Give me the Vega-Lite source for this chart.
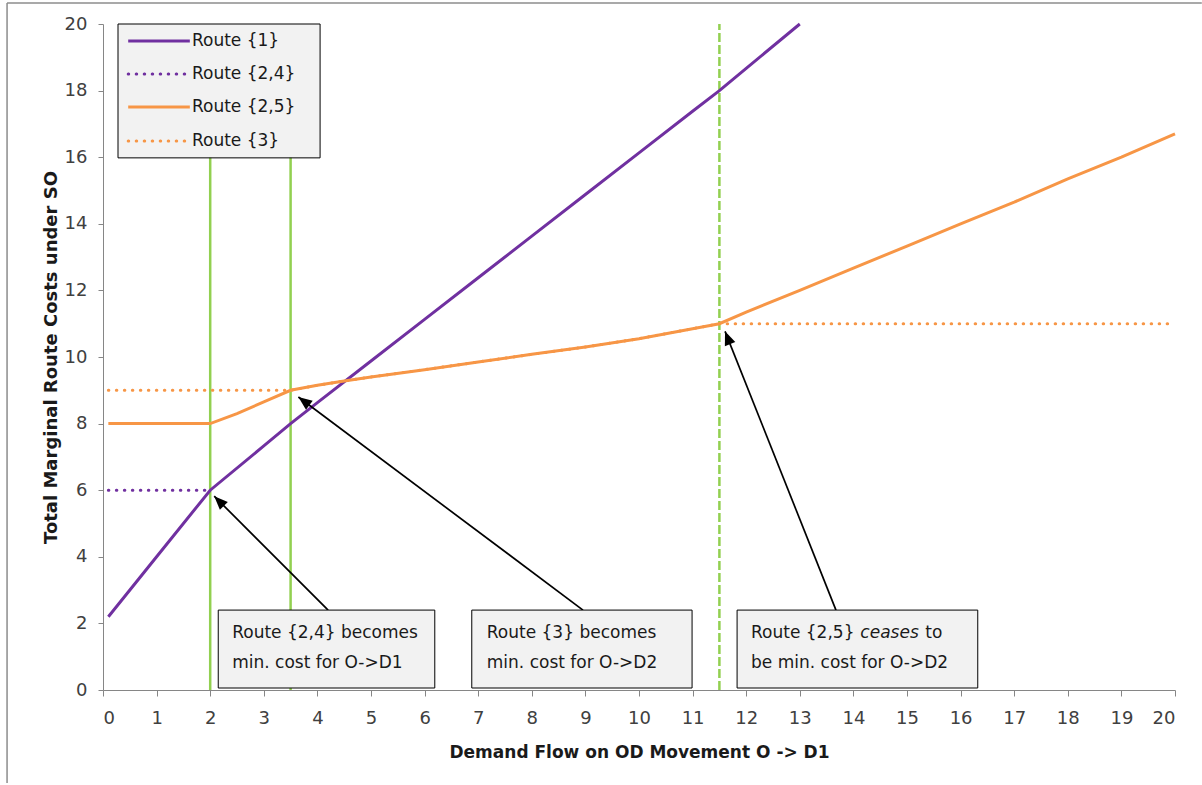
{
  "$schema": "https://vega.github.io/schema/vega-lite/v6.json",
  "autosize": {"type": "none"},
  "width": 1072,
  "height": 666,
  "padding": {"left": 103, "top": 24, "right": 27, "bottom": 95},
  "background": "#ffffff",
  "config": {
    "view": {"stroke": null},
    "font": "DejaVu Sans",
    "axis": {
      "grid": false,
      "domainColor": "#868686",
      "tickColor": "#868686",
      "labelColor": "#404040",
      "labelFont": "DejaVu Sans",
      "labelFontSize": 18,
      "titleFont": "DejaVu Sans",
      "titleFontWeight": "bold",
      "titleColor": "#1a1a1a"
    }
  },
  "datasets": {
    "routes": [
      {"route": "Route {1}", "x": 0.1, "y": 2.2},
      {"route": "Route {1}", "x": 1, "y": 4.0},
      {"route": "Route {1}", "x": 2, "y": 6.0},
      {"route": "Route {1}", "x": 3, "y": 7.33},
      {"route": "Route {1}", "x": 3.5, "y": 8.0},
      {"route": "Route {1}", "x": 4, "y": 8.63},
      {"route": "Route {1}", "x": 5, "y": 9.88},
      {"route": "Route {1}", "x": 6, "y": 11.13},
      {"route": "Route {1}", "x": 7, "y": 12.38},
      {"route": "Route {1}", "x": 8, "y": 13.63},
      {"route": "Route {1}", "x": 9, "y": 14.88},
      {"route": "Route {1}", "x": 10, "y": 16.13},
      {"route": "Route {1}", "x": 11, "y": 17.38},
      {"route": "Route {1}", "x": 11.5, "y": 18.0},
      {"route": "Route {1}", "x": 12, "y": 18.67},
      {"route": "Route {1}", "x": 13, "y": 20.0},
      {"route": "Route {2,4}", "x": 0.1, "y": 6},
      {"route": "Route {2,4}", "x": 2, "y": 6},
      {"route": "Route {2,5}", "x": 0.1, "y": 8},
      {"route": "Route {2,5}", "x": 2, "y": 8},
      {"route": "Route {2,5}", "x": 2.5, "y": 8.3},
      {"route": "Route {2,5}", "x": 3, "y": 8.65},
      {"route": "Route {2,5}", "x": 3.5, "y": 9.0},
      {"route": "Route {2,5}", "x": 4, "y": 9.15},
      {"route": "Route {2,5}", "x": 4.5, "y": 9.28},
      {"route": "Route {2,5}", "x": 5, "y": 9.4},
      {"route": "Route {2,5}", "x": 6, "y": 9.62},
      {"route": "Route {2,5}", "x": 7, "y": 9.85},
      {"route": "Route {2,5}", "x": 8, "y": 10.08},
      {"route": "Route {2,5}", "x": 9, "y": 10.3},
      {"route": "Route {2,5}", "x": 10, "y": 10.55},
      {"route": "Route {2,5}", "x": 11, "y": 10.85},
      {"route": "Route {2,5}", "x": 11.5, "y": 11.0},
      {"route": "Route {2,5}", "x": 12, "y": 11.35},
      {"route": "Route {2,5}", "x": 13, "y": 12.0},
      {"route": "Route {2,5}", "x": 14, "y": 12.67},
      {"route": "Route {2,5}", "x": 15, "y": 13.33},
      {"route": "Route {2,5}", "x": 16, "y": 14.0},
      {"route": "Route {2,5}", "x": 17, "y": 14.65},
      {"route": "Route {2,5}", "x": 18, "y": 15.35},
      {"route": "Route {2,5}", "x": 19, "y": 16.0},
      {"route": "Route {2,5}", "x": 20, "y": 16.7},
      {"route": "Route {3}", "x": 0.1, "y": 9},
      {"route": "Route {3}", "x": 3.5, "y": 9},
      {"route": "Route {3}", "x": 4, "y": 9.15},
      {"route": "Route {3}", "x": 4.5, "y": 9.28},
      {"route": "Route {3}", "x": 5, "y": 9.4},
      {"route": "Route {3}", "x": 6, "y": 9.62},
      {"route": "Route {3}", "x": 7, "y": 9.85},
      {"route": "Route {3}", "x": 8, "y": 10.08},
      {"route": "Route {3}", "x": 9, "y": 10.3},
      {"route": "Route {3}", "x": 10, "y": 10.55},
      {"route": "Route {3}", "x": 11, "y": 10.85},
      {"route": "Route {3}", "x": 11.5, "y": 11.0},
      {"route": "Route {3}", "x": 20, "y": 11.0}
    ],
    "markers": [
      {"x": 2, "kind": "solid", "y": 0, "y2": 20},
      {"x": 3.5, "kind": "solid", "y": 0, "y2": 20},
      {"x": 11.5, "kind": "dashed", "y": 0, "y2": 20}
    ],
    "arrows": [
      {"id": 1, "x": 4.2, "y": 2.4, "x2": 2.075, "y2": 5.82},
      {"id": 2, "x": 8.955, "y": 2.4, "x2": 3.645, "y2": 8.8},
      {"id": 3, "x": 13.675, "y": 2.4, "x2": 11.605, "y2": 10.77}
    ],
    "boxes": [
      {"id": 1, "x": 2.15, "x2": 6.19, "y": 0.06, "y2": 2.4},
      {"id": 2, "x": 6.88, "x2": 10.99, "y": 0.06, "y2": 2.4},
      {"id": 3, "x": 11.83, "x2": 16.32, "y": 0.06, "y2": 2.4}
    ],
    "boxtext": [
      {"x": 2.41, "y": 1.7, "text": "Route {2,4} becomes", "style": "normal"},
      {"x": 2.41, "y": 0.82, "text": "min. cost for O->D1", "style": "normal"},
      {"x": 7.16, "y": 1.7, "text": "Route {3} becomes", "style": "normal"},
      {"x": 7.16, "y": 0.82, "text": "min. cost for O->D2", "style": "normal"},
      {"x": 12.09, "y": 1.7, "text": "Route {2,5}", "style": "normal"},
      {"x": 14.13, "y": 1.7, "text": "ceases", "style": "italic"},
      {"x": 15.34, "y": 1.7, "text": "to", "style": "normal"},
      {"x": 12.09, "y": 0.82, "text": "be min. cost for O->D2", "style": "normal"}
    ],
    "legendbox": [{"x": 0.28, "x2": 4.05, "y": 15.98, "y2": 20}],
    "legend": [
      {"route": "Route {1}", "x": 0.47, "x2": 1.62, "y": 19.49, "tx": 1.66},
      {"route": "Route {2,4}", "x": 0.47, "x2": 1.62, "y": 18.5, "tx": 1.66},
      {"route": "Route {2,5}", "x": 0.47, "x2": 1.62, "y": 17.51, "tx": 1.66},
      {"route": "Route {3}", "x": 0.47, "x2": 1.62, "y": 16.49, "tx": 1.66}
    ],
    "frame": [
      {"x": -1.79, "x2": -1.79, "y": -2.79, "y2": 20.63},
      {"x": -1.79, "x2": 20.5, "y": 20.63, "y2": 20.63}
    ]
  },
  "layer": [
    {
      "data": {"name": "frame"},
      "mark": {"type": "rule", "color": "#8c8c8c", "strokeWidth": 1.5},
      "encoding": {
        "x": {"field": "x", "type": "quantitative", "scale": {"domain": [0, 20], "nice": false}},
        "x2": {"field": "x2"},
        "y": {"field": "y", "type": "quantitative", "scale": {"domain": [0, 20], "nice": false}},
        "y2": {"field": "y2"}
      }
    },
    {
      "data": {"name": "markers"},
      "mark": {"type": "rule", "color": "#92D050", "strokeWidth": 2.5},
      "encoding": {
        "x": {"field": "x", "type": "quantitative"},
        "y": {"field": "y", "type": "quantitative"},
        "y2": {"field": "y2"},
        "strokeDash": {"field": "kind", "type": "nominal", "scale": {"domain": ["solid", "dashed"], "range": [[1, 0], [9, 3]]}, "legend": null}
      }
    },
    {
      "data": {"name": "routes"},
      "transform": [{"filter": "datum.route == 'Route {2,4}' || datum.route == 'Route {3}'"}],
      "mark": {"type": "line", "strokeWidth": 3, "strokeDash": [0.5, 7.5], "strokeCap": "round"},
      "encoding": {
        "x": {"field": "x", "type": "quantitative", "axis": {"values": [0,1,2,3,4,5,6,7,8,9,10,11,12,13,14,15,16,17,18,19,20], "tickSize": 6, "labelPadding": 13, "title": "Demand Flow on OD Movement O -> D1", "titleFontSize": 17, "titlePadding": 17}},
        "y": {"field": "y", "type": "quantitative", "axis": {"values": [0,2,4,6,8,10,12,14,16,18,20], "tickSize": 5, "labelPadding": 11, "title": "Total Marginal Route Costs under SO", "titleFontSize": 18, "titlePadding": 4}},
        "detail": {"field": "route"},
        "color": {"field": "route", "type": "nominal", "scale": {"domain": ["Route {1}", "Route {2,4}", "Route {2,5}", "Route {3}"], "range": ["#7030A0", "#7030A0", "#F79646", "#F79646"]}, "legend": null},
        "order": {"field": "x", "type": "quantitative"}
      }
    },
    {
      "data": {"name": "routes"},
      "transform": [{"filter": "datum.route == 'Route {1}' || datum.route == 'Route {2,5}'"}],
      "mark": {"type": "line", "strokeWidth": 3},
      "encoding": {
        "x": {"field": "x", "type": "quantitative"},
        "y": {"field": "y", "type": "quantitative"},
        "color": {"field": "route", "type": "nominal", "legend": null},
        "order": {"field": "x", "type": "quantitative"}
      }
    },
    {
      "data": {"name": "arrows"},
      "mark": {"type": "rule", "color": "#000000", "strokeWidth": 1.7},
      "encoding": {
        "x": {"field": "x", "type": "quantitative"},
        "y": {"field": "y", "type": "quantitative"},
        "x2": {"field": "x2"},
        "y2": {"field": "y2"}
      }
    },
    {
      "data": {"name": "arrows"},
      "transform": [{"filter": "datum.id == 1"}],
      "mark": {"type": "point", "shape": "M0,0L-0.45,1.1L0.45,1.1Z", "filled": true, "color": "#000000", "opacity": 1, "size": 620, "angle": -44.7},
      "encoding": {
        "x": {"field": "x2", "type": "quantitative"},
        "y": {"field": "y2", "type": "quantitative"}
      }
    },
    {
      "data": {"name": "arrows"},
      "transform": [{"filter": "datum.id == 2"}],
      "mark": {"type": "point", "shape": "M0,0L-0.45,1.1L0.45,1.1Z", "filled": true, "color": "#000000", "opacity": 1, "size": 620, "angle": -53.2},
      "encoding": {
        "x": {"field": "x2", "type": "quantitative"},
        "y": {"field": "y2", "type": "quantitative"}
      }
    },
    {
      "data": {"name": "arrows"},
      "transform": [{"filter": "datum.id == 3"}],
      "mark": {"type": "point", "shape": "M0,0L-0.45,1.1L0.45,1.1Z", "filled": true, "color": "#000000", "opacity": 1, "size": 620, "angle": -21.7},
      "encoding": {
        "x": {"field": "x2", "type": "quantitative"},
        "y": {"field": "y2", "type": "quantitative"}
      }
    },
    {
      "data": {"name": "boxes"},
      "mark": {"type": "rect", "fill": "#F2F2F2", "stroke": "#000000", "strokeWidth": 1},
      "encoding": {
        "x": {"field": "x", "type": "quantitative"},
        "x2": {"field": "x2"},
        "y": {"field": "y", "type": "quantitative"},
        "y2": {"field": "y2"}
      }
    },
    {
      "data": {"name": "boxtext"},
      "transform": [{"filter": "datum.style == 'normal'"}],
      "mark": {"type": "text", "align": "left", "baseline": "middle", "fontSize": 17, "color": "#1a1a1a"},
      "encoding": {
        "x": {"field": "x", "type": "quantitative"},
        "y": {"field": "y", "type": "quantitative"},
        "text": {"field": "text"}
      }
    },
    {
      "data": {"name": "boxtext"},
      "transform": [{"filter": "datum.style == 'italic'"}],
      "mark": {"type": "text", "align": "left", "baseline": "middle", "fontSize": 17, "fontStyle": "italic", "color": "#1a1a1a"},
      "encoding": {
        "x": {"field": "x", "type": "quantitative"},
        "y": {"field": "y", "type": "quantitative"},
        "text": {"field": "text"}
      }
    },
    {
      "data": {"name": "legendbox"},
      "mark": {"type": "rect", "fill": "#F2F2F2", "stroke": "#000000", "strokeWidth": 1},
      "encoding": {
        "x": {"field": "x", "type": "quantitative"},
        "x2": {"field": "x2"},
        "y": {"field": "y", "type": "quantitative"},
        "y2": {"field": "y2"}
      }
    },
    {
      "data": {"name": "legend"},
      "transform": [{"filter": "datum.route == 'Route {1}' || datum.route == 'Route {2,5}'"}],
      "mark": {"type": "rule", "strokeWidth": 3},
      "encoding": {
        "x": {"field": "x", "type": "quantitative"},
        "x2": {"field": "x2"},
        "y": {"field": "y", "type": "quantitative"},
        "color": {"field": "route", "type": "nominal", "legend": null}
      }
    },
    {
      "data": {"name": "legend"},
      "transform": [{"filter": "datum.route == 'Route {2,4}' || datum.route == 'Route {3}'"}],
      "mark": {"type": "rule", "strokeWidth": 3, "strokeDash": [0.5, 7.5], "strokeCap": "round"},
      "encoding": {
        "x": {"field": "x", "type": "quantitative"},
        "x2": {"field": "x2"},
        "y": {"field": "y", "type": "quantitative"},
        "color": {"field": "route", "type": "nominal", "legend": null}
      }
    },
    {
      "data": {"name": "legend"},
      "mark": {"type": "text", "align": "left", "baseline": "middle", "fontSize": 17, "color": "#1a1a1a"},
      "encoding": {
        "x": {"field": "tx", "type": "quantitative"},
        "y": {"field": "y", "type": "quantitative"},
        "text": {"field": "route"}
      }
    }
  ]
}
